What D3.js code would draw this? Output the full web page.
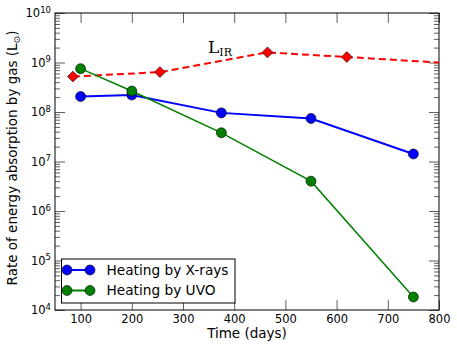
<!DOCTYPE html>
<html lang="en">
<head>
	<meta charset="UTF-8">
	<title>Energy absorption</title>
	<script src="https://cdnjs.cloudflare.com/ajax/libs/d3/7.8.5/d3.min.js"></script>
	<style>
		body { margin: 0; background: #fff; }
		.axis path { display: none; }
		.axis line { stroke: #333; stroke-width: 0.8; }
	</style>
</head>
<body>
	<script>
		// data
		var days = [100, 200, 375, 550, 750];
		var xray = [2.05e8, 2.2e8, 9.6e7, 7.4e7, 1.42e7];
		var uvo = [7.5e8, 2.65e8, 3.8e7, 4.0e6, 1.83e4];
		var irDays = [85, 255, 465, 620];
		var irLum = [5.2e8, 6.4e8, 1.6e9, 1.29e9];
		var irLineDays = [85, 255, 465, 620, 800];
		var irLineLum = [5.2e8, 6.4e8, 1.6e9, 1.29e9, 1.0e9];
		var xTicks = [100, 200, 300, 400, 500, 600, 700, 800];
		var yExps = [4, 5, 6, 7, 8, 9, 10];

		var W = 457, H = 349;
		var SANS = '"DejaVu Sans", sans-serif';
		var margin = {top: 13, right: 18, bottom: 39, left: 55};
		var x = d3.scaleLinear().domain([50, 800]).range([margin.left, W - margin.right]);
		var y = d3.scaleLog().domain([1e4, 1e10]).range([H - margin.bottom, margin.top]);

		var svg = d3.select('body').append('svg')
			.attr('width', W)
			.attr('height', H);

		var majorY = yExps.map(function (e) { return Math.pow(10, e); });
		var minorY = [];
		yExps.slice(0, -1).forEach(function (e) {
			for (var k = 2; k < 10; k++) minorY.push(k * Math.pow(10, e));
		});

		// bottom / top
		svg.append('g').attr('class', 'axis')
			.attr('transform', 'translate(0,' + y.range()[0] + ')')
			.call(d3.axisBottom(x).tickValues(xTicks).tickSize(-10).tickPadding(5))
			.selectAll('text').attr('font-size', 11.5).attr('fill', '#000');
		svg.append('g').attr('class', 'axis')
			.attr('transform', 'translate(0,' + y.range()[1] + ')')
			.call(d3.axisTop(x).tickValues(xTicks).tickSize(-10).tickFormat(''));

		// left
		var left = svg.append('g').attr('class', 'axis')
			.attr('transform', 'translate(' + x.range()[0] + ',0)')
			.call(d3.axisLeft(y).tickValues(majorY).tickSize(-10).tickFormat(function () { return '10'; }));
		left.selectAll('text')
			.attr('font-size', 11.5).attr('fill', '#000')
			.attr('x', -4)
			.append('tspan')
			.attr('dy', '-0.55em')
			.attr('font-size', 8.5)
			.text(function (d) { return Math.round(Math.log10(d)); });
		svg.append('g').attr('class', 'axis')
			.attr('transform', 'translate(' + x.range()[0] + ',0)')
			.call(d3.axisLeft(y).tickValues(minorY).tickSize(-5).tickFormat(''));

		// right
		svg.append('g').attr('class', 'axis')
			.attr('transform', 'translate(' + x.range()[1] + ',0)')
			.call(d3.axisRight(y).tickValues(majorY).tickSize(-10).tickFormat(''));
		svg.append('g').attr('class', 'axis')
			.attr('transform', 'translate(' + x.range()[1] + ',0)')
			.call(d3.axisRight(y).tickValues(minorY).tickSize(-5).tickFormat(''));

		// frame
		svg.append('rect')
			.attr('x', x.range()[0]).attr('y', y.range()[1])
			.attr('width', x.range()[1] - x.range()[0])
			.attr('height', y.range()[0] - y.range()[1])
			.attr('fill', 'none').attr('stroke', '#000').attr('stroke-width', 1);

		svg.append('clipPath').attr('id', 'plot').append('rect')
			.attr('x', x.range()[0]).attr('y', y.range()[1])
			.attr('width', x.range()[1] - x.range()[0])
			.attr('height', y.range()[0] - y.range()[1]);

		// IR luminosity, dashed
		var irLine = d3.line()
			.x(function (d, i) { return x(irLineDays[i]); })
			.y(function (d) { return y(d); });
		svg.append('path')
			.attr('clip-path', 'url(#plot)')
			.attr('d', irLine(irLineLum))
			.attr('fill', 'none').attr('stroke', '#ff0000')
			.attr('stroke-width', 2).attr('stroke-dasharray', '7,4');

		function series(vals, color, width) {
			var line = d3.line()
				.x(function (d, i) { return x(days[i]); })
				.y(function (d) { return y(d); });
			svg.append('path')
				.attr('d', line(vals))
				.attr('fill', 'none').attr('stroke', color).attr('stroke-width', width);
			svg.selectAll(null).data(vals).enter().append('circle')
				.attr('cx', function (d, i) { return x(days[i]); })
				.attr('cy', function (d) { return y(d); })
				.attr('r', 5)
				.attr('fill', color).attr('stroke', '#000').attr('stroke-width', 0.6);
		}
		series(xray, '#0000ff', 2);
		series(uvo, '#008000', 1.5);

		var diamond = d3.symbol().type(d3.symbolDiamond2).size(75);
		svg.selectAll('.ir').data(irLum).enter().append('path')
			.attr('class', 'ir')
			.attr('transform', function (d, i) { return 'translate(' + x(irDays[i]) + ',' + y(d) + ')'; })
			.attr('d', diamond)
			.attr('fill', '#ff0000').attr('stroke', '#000').attr('stroke-width', 0.6);

		// legend
		var lg = svg.append('g');
		lg.append('rect')
			.attr('x', 61.5).attr('y', 259).attr('width', 173.5).attr('height', 44)
			.attr('fill', '#fff').attr('stroke', '#000').attr('stroke-width', 1);
		[['Heating by X-rays', '#0000ff', 270], ['Heating by UVO', '#008000', 290.5]].forEach(function (e) {
			lg.append('line').attr('x1', 67).attr('x2', 90).attr('y1', e[2]).attr('y2', e[2])
				.attr('stroke', e[1]).attr('stroke-width', 2);
			[67, 90].forEach(function (cx) {
				lg.append('circle').attr('cx', cx).attr('cy', e[2]).attr('r', 5)
					.attr('fill', e[1]).attr('stroke', '#000').attr('stroke-width', 0.6);
			});
			lg.append('text').attr('x', 106.5).attr('y', e[2]).attr('dy', '0.36em')
				.attr('font-size', 13.7).text(e[0]);
		});

		// axis titles
		svg.append('text')
			.attr('x', 247).attr('y', 338)
			.attr('text-anchor', 'middle').attr('font-size', 13.5)
			.text('Time (days)');
		var yl = svg.append('text')
			.attr('transform', 'translate(17,158) rotate(-90)')
			.attr('text-anchor', 'middle').attr('font-size', 13.5)
			.text('Rate of energy absorption by gas (L');
		yl.append('tspan').attr('dy', 3).attr('font-size', 9).text('\u2299');
		yl.append('tspan').attr('dy', -3).text(')');

		// all text in DejaVu Sans, except the serif L_IR label added below
		svg.selectAll('text').style('font-family', SANS);

		var lir = svg.append('text')
			.attr('x', 208).attr('y', 53)
			.style('font-family', '"DejaVu Serif", serif')
			.attr('font-size', 17)
			.text('L');
		lir.append('tspan').attr('dy', 3).attr('font-size', 11).text('IR');
	</script>
</body>
</html>
